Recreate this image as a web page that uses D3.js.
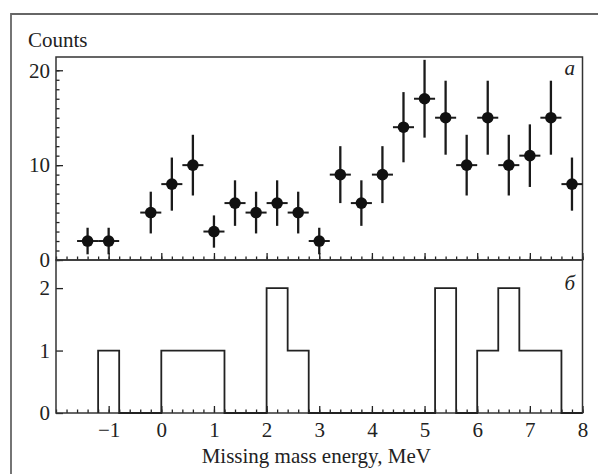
<!DOCTYPE html>
<html>

<head>
  <meta charset="utf-8" />
  <title>Missing mass spectrum</title>
  <style>
    body {
      margin: 0;
      background: #fff;
    }

    text {
      font-family: "Liberation Serif", "Times New Roman", serif;
      font-size: 21px;
      fill: #222;
    }

    .tick line {
      stroke: #222;
      stroke-width: 1.3px;
    }

    .frame {
      fill: none;
      stroke: #333;
      stroke-width: 1.5px;
    }
  </style>
  <script src="https://cdnjs.cloudflare.com/ajax/libs/d3/7.8.5/d3.min.js"></script>
</head>

<body>
  <div id="chartArea"></div>
  <script>
    // panel a: counts per 0.4 MeV bin, with statistical errors
    var centersA = [-1.4, -1.0, -0.2, 0.2, 0.6, 1.0, 1.4, 1.8, 2.2, 2.6, 3.0, 3.4,
      3.8, 4.2, 4.6, 5.0, 5.4, 5.8, 6.2, 6.6, 7.0, 7.4, 7.8];
    var countsA = [2, 2, 5, 8, 10, 3, 6, 5, 6, 5, 2, 9, 6, 9, 14, 17, 15, 10, 15, 10, 11, 15, 8];
    var errorsA = [1.4, 1.4, 2.2, 2.8, 3.2, 1.7, 2.4, 2.2, 2.4, 2.2, 1.4, 3.0, 2.4, 3.0,
      3.7, 4.1, 3.9, 3.2, 3.9, 3.2, 3.3, 3.9, 2.8];
    var binWidth = 0.4;

    // panel б: histogram, left edges of bins and their contents
    var binStartsB = [-1.2, -0.8, -0.4, 0, 0.4, 0.8, 1.2, 1.6, 2.0, 2.4, 2.8, 3.2,
      3.6, 4.0, 4.4, 4.8, 5.2, 5.6, 6.0, 6.4, 6.8, 7.2, 7.6];
    var countsB = [1, 0, 0, 1, 1, 1, 0, 0, 2, 1, 0, 0, 0, 0, 0, 0, 2, 0, 1, 2, 1, 1, 0];

    var xTicks = [-1, 0, 1, 2, 3, 4, 5, 6, 7, 8];
    var yTicksA = [0, 10, 20];
    var yTicksB = [0, 1, 2];
    var xTitle = 'Missing mass energy, MeV';
    var yTitle = 'Counts';

    var left = 56, right = 582.5, topA = 57, mid = 260, bottom = 413;

    var svg = d3.select('#chartArea').append('svg')
      .attr('width', 598)
      .attr('height', 474);

    // outer frame of the figure (cut by the picture edge)
    svg.append('path')
      .attr('d', 'M11,480V14H600')
      .attr('fill', 'none')
      .attr('stroke', '#666')
      .attr('stroke-width', 1.8);

    var x = d3.scaleLinear().domain([-2, 8]).range([left, right]);
    var yA = d3.scaleLinear().domain([0, 21.4]).range([mid, topA]);
    var yB = d3.scaleLinear().domain([0, 2.45]).range([bottom, mid]);

    var xMinor = d3.range(-2, 8.001, 0.2).map(d => +d.toFixed(1));
    var fmt = d3.format('d');

    function clean(g) {
      g.select('.domain').remove();
    }

    // x ticks, both panels
    [[mid, false], [bottom, true]].forEach(function (p) {
      svg.append('g')
        .attr('transform', 'translate(0,' + p[0] + ')')
        .call(d3.axisBottom(x).tickValues(xMinor).tickSize(-3.5).tickFormat(''))
        .call(clean);
      svg.append('g')
        .attr('transform', 'translate(0,' + p[0] + ')')
        .call(d3.axisBottom(x).tickValues(xTicks).tickSize(-7).tickPadding(9)
          .tickFormat(p[1] ? fmt : ''))
        .call(clean);
    });

    // y ticks, panel a
    svg.append('g')
      .attr('transform', 'translate(' + left + ',0)')
      .call(d3.axisLeft(yA).tickValues(d3.range(0, 21)).tickSize(-3.5).tickFormat(''))
      .call(clean);
    svg.append('g')
      .attr('transform', 'translate(' + left + ',0)')
      .call(d3.axisLeft(yA).tickValues(yTicksA).tickSize(-7).tickPadding(6).tickFormat(fmt))
      .call(clean);

    // y ticks, panel б
    svg.append('g')
      .attr('transform', 'translate(' + left + ',0)')
      .call(d3.axisLeft(yB).tickValues(yTicksB).tickSize(-7).tickPadding(6).tickFormat(fmt))
      .call(clean);

    // panel frames
    svg.append('rect').attr('class', 'frame')
      .attr('x', left).attr('y', topA)
      .attr('width', right - left).attr('height', mid - topA);
    svg.append('rect').attr('class', 'frame')
      .attr('x', left).attr('y', mid)
      .attr('width', right - left).attr('height', bottom - mid);

    // panel a: error bars and points
    var pts = svg.append('g');
    pts.selectAll('line.ey')
      .data(countsA)
      .enter()
      .append('line')
      .attr('class', 'ey')
      .attr('x1', (d, i) => x(centersA[i]))
      .attr('x2', (d, i) => x(centersA[i]))
      .attr('y1', (d, i) => yA(d + errorsA[i]))
      .attr('y2', (d, i) => yA(d - errorsA[i]))
      .attr('stroke', '#1a1a1a')
      .attr('stroke-width', 2.3);
    pts.selectAll('line.ex')
      .data(countsA)
      .enter()
      .append('line')
      .attr('class', 'ex')
      .attr('x1', (d, i) => x(centersA[i] - binWidth / 2))
      .attr('x2', (d, i) => x(centersA[i] + binWidth / 2))
      .attr('y1', d => yA(d))
      .attr('y2', d => yA(d))
      .attr('stroke', '#1a1a1a')
      .attr('stroke-width', 2);
    pts.selectAll('circle')
      .data(countsA)
      .enter()
      .append('circle')
      .attr('cx', (d, i) => x(centersA[i]))
      .attr('cy', d => yA(d))
      .attr('r', 5.8)
      .attr('fill', '#111');

    // panel б: histogram outline
    var outline = [[binStartsB[0], 0]];
    binStartsB.forEach(function (b, i) {
      outline.push([b, countsB[i]]);
      outline.push([b + binWidth, countsB[i]]);
    });
    outline.push([binStartsB[binStartsB.length - 1] + binWidth, 0]);
    svg.append('path')
      .datum(outline)
      .attr('d', d3.line().x(d => x(d[0])).y(d => yB(d[1])))
      .attr('fill', 'none')
      .attr('stroke', '#222')
      .attr('stroke-width', 1.8);

    // labels
    svg.append('text')
      .attr('x', 28)
      .attr('y', 47)
      .text(yTitle);
    svg.append('text')
      .attr('x', (left + right) / 2 - 3)
      .attr('y', 463)
      .attr('text-anchor', 'middle')
      .text(xTitle);
    svg.append('text')
      .attr('x', 575)
      .attr('y', 75)
      .attr('text-anchor', 'end')
      .style('font-style', 'italic')
      .text('а');
    svg.append('text')
      .attr('x', 575)
      .attr('y', 290)
      .attr('text-anchor', 'end')
      .style('font-style', 'italic')
      .text('б');
  </script>
</body>

</html>
